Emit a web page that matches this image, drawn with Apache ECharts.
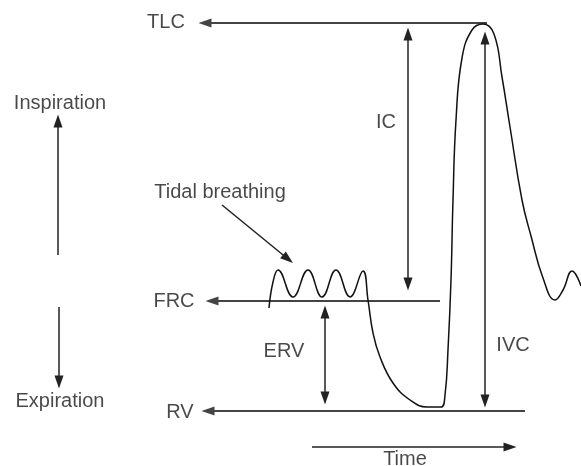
<!DOCTYPE html>
<html>
<head>
<meta charset="utf-8">
<script src="https://cdn.jsdelivr.net/npm/echarts@6/dist/echarts.min.js"></script>
<style>
  html, body { margin: 0; padding: 0; background: #fff; }
  #main { width: 581px; height: 466px; }
</style>
</head>
<body>
<div id="main"></div>
<script>
// spirometry trace, x = time (px scale), y = volume (px scale, top = TLC)
var curveX = [269, 273, 278, 293, 308, 322, 336, 350, 363, 368, 373, 380, 393, 410, 427, 441, 445, 448, 451, 453, 456, 462, 472, 483, 494, 502, 510, 522, 531, 543, 555, 563, 572, 581];
var curveY = [308, 282, 270, 297, 270, 297, 270, 297, 271, 300, 333, 357, 383, 400, 407, 407, 395, 350, 280, 200, 120, 58, 30, 24, 34, 77, 127, 200, 236, 278, 300, 290, 271, 286];

// level lines (from right end to arrow tip at the left)
var levelNames = ['TLC', 'FRC', 'RV'];
var levelY = [23, 301, 411];
var levelFrom = [487, 440, 525];
var levelTo = [205, 212, 208];

// double arrows: IC, ERV, IVC
var spanX = [408, 325, 485];
var spanTop = [34, 312, 38];
var spanBottom = [284, 398, 401];

// single arrows [x1, y1, x2, y2]
var singleArrows = [
  [58, 255, 58, 121],   // inspiration
  [59, 307, 59, 382],   // expiration
  [312, 447, 510, 447], // time
  [222, 205, 288, 259]  // tidal breathing
];

var labelTexts = ['TLC', 'FRC', 'RV', 'IC', 'ERV', 'IVC', 'Inspiration', 'Expiration', 'Time', 'Tidal breathing'];
var labelX = [166, 174, 180, 386, 284, 513, 60, 60, 405, 220];
var labelY = [22, 301, 412, 122, 351, 345, 103, 401, 459, 192];

var chart = echarts.init(document.getElementById('main'));

var levelLines = levelNames.map(function (n, i) {
  return { coords: [[levelFrom[i], levelY[i]], [levelTo[i], levelY[i]]] };
});
var spanLines = spanX.map(function (x, i) {
  return { coords: [[x, spanTop[i]], [x, spanBottom[i]]] };
});
var arrowLines = singleArrows.map(function (a) {
  return { coords: [[a[0], a[1]], [a[2], a[3]]] };
});

var head = [[9, 13], [9, 13]];

var option = {
  animation: false,
  grid: { left: 0, right: 0, top: 0, bottom: 0 },
  xAxis: { type: 'value', min: 0, max: 581, show: false },
  yAxis: { type: 'value', min: 0, max: 466, inverse: true, show: false },
  series: [
    {
      type: 'line',
      data: curveX.map(function (x, i) { return [x, curveY[i]]; }),
      smooth: 0.45,
      showSymbol: false,
      lineStyle: { color: '#111', width: 1.5 }
    },
    {
      type: 'lines',
      coordinateSystem: 'cartesian2d',
      symbol: ['none', 'triangle'],
      symbolSize: head,
      lineStyle: { color: '#444', width: 2, opacity: 1 },
      data: levelLines
    },
    {
      type: 'lines',
      coordinateSystem: 'cartesian2d',
      symbol: ['triangle', 'triangle'],
      symbolSize: head,
      lineStyle: { color: '#222', width: 1.5, opacity: 1 },
      data: spanLines
    },
    {
      type: 'lines',
      coordinateSystem: 'cartesian2d',
      symbol: ['none', 'triangle'],
      symbolSize: head,
      lineStyle: { color: '#222', width: 1.5, opacity: 1 },
      data: arrowLines
    },
    {
      type: 'scatter',
      symbolSize: 0,
      data: labelTexts.map(function (t, i) { return { name: t, value: [labelX[i], labelY[i]] }; }),
      label: {
        show: true,
        position: 'inside',
        formatter: '{b}',
        color: '#1a1a1a',
        fontSize: 20,
        fontFamily: 'Liberation Sans'
      }
    }
  ]
};

chart.setOption(option);
</script>
</body>
</html>
